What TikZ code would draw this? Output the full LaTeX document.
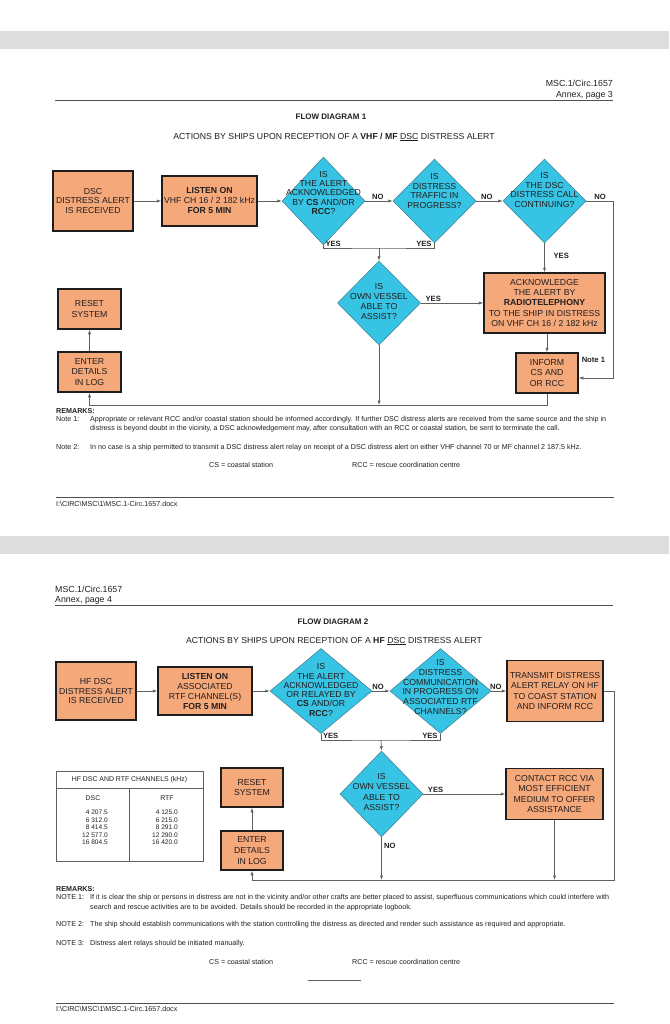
\documentclass[tikz,border=0pt]{standalone}
\usepackage{fontspec}
\setmainfont{Liberation Sans}
\usetikzlibrary{shapes.geometric,arrows.meta}
\newcommand{\myfs}[2]{\fontsize{#1}{#2}\selectfont}
\definecolor{boxfill}{RGB}{245,168,122}
\definecolor{boxedge}{RGB}{30,30,30}
\definecolor{diafill}{RGB}{55,196,228}
\definecolor{diaedge}{RGB}{60,125,145}
\definecolor{lncol}{RGB}{95,95,95}
\definecolor{rulecol}{RGB}{80,80,80}
\definecolor{band}{RGB}{221,221,221}
\definecolor{txt}{RGB}{35,31,32}
\begin{document}
\begin{tikzpicture}[x=1pt,y=-1pt,
  box/.style={draw=boxedge, line width=1.5pt, fill=boxfill, inner sep=0pt, align=center, text=txt, font=\myfs{8.7}{10.3}},
  dia/.style={shape=diamond, draw=diaedge, line width=0.5pt, fill=diafill, inner sep=0pt},
  dtxt/.style={align=center, text=txt, inner sep=0pt, font=\myfs{8.7}{9.4}},
  ln/.style={draw=lncol, line width=0.7pt},
  arr/.style={ln, -{Latex[length=4.5pt,width=3.2pt]}},
  lbl/.style={font=\bfseries\myfs{7.6}{8}, text=txt, inner sep=0.8pt},
  rmk/.style={font=\myfs{7.15}{8}, text=txt, inner sep=0pt, anchor=base west},
  hdr/.style={font=\myfs{8.8}{10}, text=txt, inner sep=0pt},
  rulel/.style={draw=rulecol, line width=0.8pt},
  tbl/.style={font=\myfs{6.6}{7.5}, text=txt, inner sep=0pt}]
\useasboundingbox (0,0) rectangle (669,1024);
\fill[white] (0,0) rectangle (669,1024);
% page bands
\fill[band] (0,31) rectangle (669,49);
\fill[band] (0,536) rectangle (669,554);

% ================= PAGE 1 =================
\node[hdr, anchor=east] (h1a) at (613,83) {MSC.1/Circ.1657};
\node[hdr, anchor=east] (h1b) at (613,95) {Annex, page 3};
\draw[rulel] (55,100) -- (613,100);
\node[font=\bfseries\myfs{8}{9}, text=txt, inner sep=0pt] (t1) at (331,117) {FLOW DIAGRAM 1};
\node[font=\myfs{8.7}{10}, text=txt, inner sep=0pt] (s1) at (334,137) {ACTIONS BY SHIPS UPON RECEPTION OF A \textbf{VHF / MF} \underline{DSC} DISTRESS ALERT};

\node[box, minimum width=80pt, minimum height=60pt, font=\myfs{8.7}{9.4}] (b1) at (93,201) {DSC\\DISTRESS ALERT\\IS RECEIVED};
\node[box, minimum width=95pt, minimum height=50pt, font=\myfs{8.7}{10}] (b2) at (209.5,201) {\textbf{LISTEN ON}\\VHF CH 16 / 2 182 kHz\\\textbf{FOR 5 MIN}};

\node[dia, minimum width=83pt, minimum height=88pt] (d1) at (323.5,201) {};
\node[dtxt] (d1t) at ([yshift=8pt]d1.center) {IS\\THE ALERT\\ACKNOWLEDGED\\BY \textbf{CS} AND/OR\\\textbf{RCC}?};
\node[dia, minimum width=83pt, minimum height=84pt] (d2) at (434.5,201) {};
\node[dtxt, font=\myfs{8.7}{9.7}] (d2t) at ([yshift=10pt]d2.center) {IS\\DISTRESS\\TRAFFIC IN\\PROGRESS?};
\node[dia, minimum width=83pt, minimum height=84pt] (d3) at (544.5,201) {};
\node[dtxt, font=\myfs{8.7}{9.6}] (d3t) at ([yshift=11pt]d3.center) {IS\\THE DSC\\DISTRESS CALL\\CONTINUING?};
\node[dia, minimum width=83pt, minimum height=84pt] (d4) at (379,303) {};
\node[dtxt, font=\myfs{8.7}{10.3}] (d4t) at ([yshift=1.5pt]d4.center) {IS\\OWN VESSEL\\ABLE TO\\ASSIST?};

\node[box, minimum width=121pt, minimum height=60pt] (ack) at (544.5,303) {ACKNOWLEDGE\\THE ALERT BY\\\textbf{RADIOTELEPHONY}\\TO THE SHIP IN DISTRESS\\ON VHF CH 16 / 2 182 kHz};
\node[box, minimum width=62pt, minimum height=40pt, font=\myfs{8.7}{10.7}] (inf) at (547,373) {INFORM\\CS AND\\OR RCC};
\node[box, minimum width=63pt, minimum height=40pt, font=\myfs{8.7}{10.7}] (reset1) at (89.5,309) {RESET\\SYSTEM};
\node[box, minimum width=63pt, minimum height=40pt, font=\myfs{8.7}{10.7}] (enter1) at (89.5,372) {ENTER\\DETAILS\\IN LOG};

\draw[arr] (b1.east) -- (b2.west);
\draw[arr] (b2.east) -- (d1.west);
\draw[arr] (d1.east) -- node[lbl, above, pos=0.46]{NO} (d2.west);
\draw[arr] (d2.east) -- node[lbl, above, pos=0.4]{NO} (d3.west);
\coordinate (r1) at (613,201);
\draw[arr] (d3.east) -- node[lbl, above, pos=0.52]{NO} (r1) |- ([yshift=-5pt]inf.east);
\draw[arr] (d3.south) -- node[lbl, right=8pt, pos=0.45]{YES} (ack.north);
\coordinate (m1) at (379,248);
\draw[ln] (d1.south) |- (m1) -| (d2.south);
\node[lbl, anchor=south west, xshift=1pt, yshift=0.5pt] (y1) at (d1.south |- m1) {YES};
\node[lbl, anchor=south east, xshift=-2pt, yshift=0.5pt] (y2) at (d2.south |- m1) {YES};
\draw[arr] (m1) -- (d4.north);
\draw[arr] (d4.east) -- node[lbl, above, pos=0.2]{YES} (ack.west);
\draw[arr] (ack.south -| inf.north) -- (inf.north);
\node[lbl, anchor=north west, xshift=2pt, yshift=-4pt] (n1) at (inf.north east) {Note 1};
\coordinate (bl1) at (547,405);
\draw[arr] (inf.south) -- (bl1) -| (enter1.south);
\draw[arr] (d4.south) -- (d4.south |- bl1);
\draw[arr] (enter1.north) -- (reset1.south);

\node[rmk] (rm1) at (56,413.5) {\textbf{REMARKS:}};
\node[rmk] (n1a) at (56,421.5) {Note 1:};
\node[rmk] (n1b) at (90,421.5) {\makebox[516pt][s]{Appropriate or relevant RCC and/or coastal station should be informed accordingly. If further DSC distress alerts are received from the same source and the ship in}};
\node[rmk] (n1c) at (90,430.5) {distress is beyond doubt in the vicinity, a DSC acknowledgement may, after consultation with an RCC or coastal station, be sent to terminate the call.};
\node[rmk] (n2a) at (56,449.5) {Note 2:};
\node[rmk] (n2b) at (90,449.5) {In no case is a ship permitted to transmit a DSC distress alert relay on receipt of a DSC distress alert on either VHF channel 70 or MF channel 2 187.5 kHz.};
\node[rmk] (cs1) at (209,467.5) {CS = coastal station};
\node[rmk] (rc1) at (352,467.5) {RCC = rescue coordination centre};
\draw[rulel] (56,497) -- (614,497);
\node[rmk] (f1) at (56,506.5) {I:\textbackslash CIRC\textbackslash MSC\textbackslash 1\textbackslash MSC.1-Circ.1657.docx};

% ================= PAGE 2 =================
\node[hdr, anchor=west] (h2a) at (55,589) {MSC.1/Circ.1657};
\node[hdr, anchor=west] (h2b) at (55,600) {Annex, page 4};
\draw[rulel] (55,605) -- (613,605);
\node[font=\bfseries\myfs{8}{9}, text=txt, inner sep=0pt] (t2) at (333,622) {FLOW DIAGRAM 2};
\node[font=\myfs{8.7}{10}, text=txt, inner sep=0pt] (s2) at (334,641) {ACTIONS BY SHIPS UPON RECEPTION OF A \textbf{HF} \underline{DSC} DISTRESS ALERT};

\node[box, minimum width=80pt, minimum height=58pt, font=\myfs{8.7}{9.6}] (h1) at (96,691) {HF DSC\\DISTRESS ALERT\\IS RECEIVED};
\node[box, minimum width=94pt, minimum height=48pt, font=\myfs{8.7}{10}] (h2) at (205,691) {\textbf{LISTEN ON}\\ASSOCIATED\\RTF CHANNEL(S)\\\textbf{FOR 5 MIN}};
\node[dia, minimum width=102pt, minimum height=85pt] (e1) at (321,691) {};
\node[dtxt, font=\myfs{8.7}{9.3}] (e1t) at ([yshift=1pt]e1.center) {IS\\THE ALERT\\ACKNOWLEDGED\\OR RELAYED BY\\\textbf{CS} AND/OR\\\textbf{RCC}?};
\node[dia, minimum width=101pt, minimum height=85pt] (e2) at (440.5,691) {};
\node[dtxt, font=\myfs{8.7}{9.9}] (e2t) at ([yshift=4pt]e2.center) {IS\\DISTRESS\\COMMUNICATION\\IN PROGRESS ON\\ASSOCIATED RTF\\CHANNELS?};
\node[box, minimum width=96pt, minimum height=61pt] (tx) at (555,691) {TRANSMIT DISTRESS\\ALERT RELAY ON HF\\TO COAST STATION\\AND INFORM RCC};
\node[dia, minimum width=83pt, minimum height=86pt] (e3) at (381.5,794) {};
\node[dtxt, font=\myfs{8.7}{10.5}] (e3t) at ([yshift=2pt]e3.center) {IS\\OWN VESSEL\\ABLE TO\\ASSIST?};
\node[box, minimum width=97pt, minimum height=51pt] (ct) at (554.5,794) {CONTACT RCC VIA\\MOST EFFICIENT\\MEDIUM TO OFFER\\ASSISTANCE};
\node[box, minimum width=62pt, minimum height=39pt, font=\myfs{8.7}{10.7}] (reset2) at (252,787.5) {RESET\\SYSTEM};
\node[box, minimum width=62pt, minimum height=39pt, font=\myfs{8.7}{10.7}] (enter2) at (252,850.5) {ENTER\\DETAILS\\IN LOG};

\draw[arr] (h1.east) -- (h2.west);
\draw[arr] (h2.east) -- (e1.west);
\draw[arr] (e1.east) -- node[lbl, above, pos=0.33]{NO} (e2.west);
\draw[arr] (e2.east) -- node[lbl, above, pos=0.3]{NO} (tx.west);
\coordinate (r2) at (614,691);
\coordinate (bl2) at (614,880);
\draw[arr] (tx.east) -- (r2) -- (bl2) -| (enter2.south);
\coordinate (m2) at (381,740);
\draw[ln] (e1.south) |- (m2) -| (e2.south);
\node[lbl, anchor=south west, xshift=1pt, yshift=0.5pt] (y3) at (e1.south |- m2) {YES};
\node[lbl, anchor=south east, xshift=-2pt, yshift=0.5pt] (y4) at (e2.south |- m2) {YES};
\draw[arr] (m2) -- (e3.north);
\draw[arr] (e3.east) -- node[lbl, above, pos=0.15]{YES} (ct.west);
\draw[arr] (e3.south) -- node[lbl, right=1.5pt, pos=0.21]{NO} (e3.south |- bl2);
\draw[arr] (ct.south) -- (ct.south |- bl2);
\draw[arr] (enter2.north) -- (reset2.south);

% table
\node[draw=lncol, line width=0.6pt, minimum width=147pt, minimum height=90pt, inner sep=0pt, anchor=north west] (tab) at (56,771) {};
\draw[draw=lncol, line width=0.6pt] (56,788) -- (203,788);
\draw[draw=lncol, line width=0.6pt] (129,788) -- (129,861);
\node[tbl, font=\myfs{6.9}{8}] (th) at (129.5,780) {HF DSC AND RTF CHANNELS (kHz)};
\node[tbl, font=\myfs{6.9}{8}] (tdsc) at (93,798) {DSC};
\node[tbl, font=\myfs{6.9}{8}] (trtf) at (167,798) {RTF};
\node[tbl, anchor=north east] (vdsc) at (108,809.5) {\begin{tabular}{@{}r@{}}4 207.5\\6 312.0\\8 414.5\\12 577.0\\16 804.5\end{tabular}};
\node[tbl, anchor=north east] (vrtf) at (178,809.5) {\begin{tabular}{@{}r@{}}4 125.0\\6 215.0\\8 291.0\\12 290.0\\16 420.0\end{tabular}};

\node[rmk] (rm2) at (56,891.5) {\textbf{REMARKS:}};
\node[rmk] (m1a) at (56,899.5) {NOTE 1:};
\node[rmk] (m1b) at (90,899.5) {\makebox[519pt][s]{If it is clear the ship or persons in distress are not in the vicinity and/or other crafts are better placed to assist, superfluous communications which could interfere with}};
\node[rmk] (m1c) at (90,909.5) {search and rescue activities are to be avoided. Details should be recorded in the appropriate logbook.};
\node[rmk] (m2a) at (56,926.5) {NOTE 2:};
\node[rmk] (m2b) at (90,926.5) {The ship should establish communications with the station controlling the distress as directed and render such assistance as required and appropriate.};
\node[rmk] (m3a) at (56,945.5) {NOTE 3:};
\node[rmk] (m3b) at (90,945.5) {Distress alert relays should be initiated manually.};
\node[rmk] (cs2) at (209,964.5) {CS = coastal station};
\node[rmk] (rc2) at (352,964.5) {RCC = rescue coordination centre};
\draw[draw=lncol, line width=0.6pt] (308,980) -- (361,980);
\draw[rulel] (56,1003) -- (614,1003);
\node[rmk] (f2) at (56,1011.5) {I:\textbackslash CIRC\textbackslash MSC\textbackslash 1\textbackslash MSC.1-Circ.1657.docx};
\end{tikzpicture}
\end{document}
